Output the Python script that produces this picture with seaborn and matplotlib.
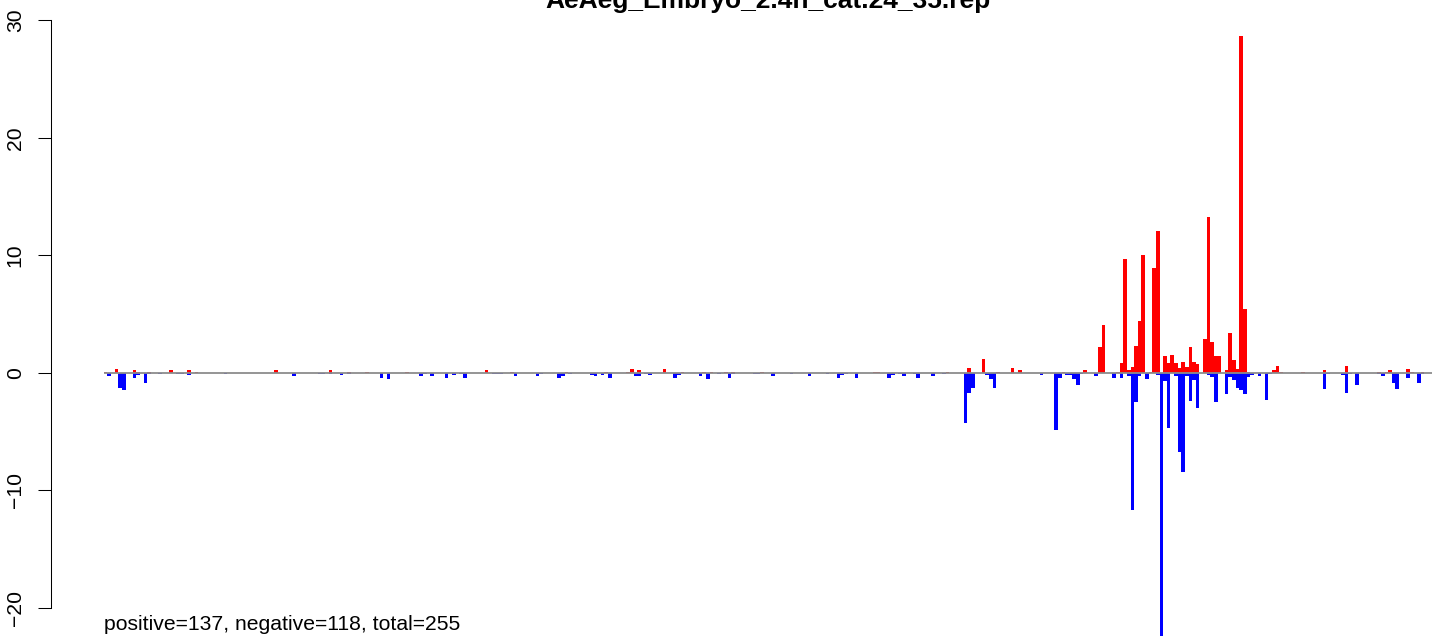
import matplotlib
matplotlib.use("Agg")
import matplotlib.pyplot as plt
import seaborn as sns
import numpy as np
import pandas as pd

title = "AeAeg_Embryo_2.4h_cat.24_35.rep"
note = "positive=137, negative=118, total=255"
n_slots = 366
y_ticks = [-20, -10, 0, 10, 20, 30]

# positive (red) bars: slot index and height
pos_idx = [0, 3, 8, 9, 12, 18, 23, 25, 47, 62,
           67, 72, 83, 105, 112, 127, 138, 144, 145, 147,
           154, 159, 165, 167, 171, 173, 181, 212, 213, 232,
           238, 242, 246, 250, 252, 264, 270, 274, 275, 279,
           280, 281, 282, 283, 284, 285, 286, 288, 289, 290,
           292, 293, 294, 295, 296, 297, 298, 299, 300, 301,
           303, 304, 305, 306, 307, 309, 310, 311, 312, 313,
           314, 315, 322, 323, 324, 330, 336, 342, 351, 353,
           354, 359, 360, 363]
pos_val = [0.1, 0.37, 0.27, 0.05, 0.1, 0.2, 0.2, 0.05, 0.2, 0.2,
           0.1, 0.1, 0.05, 0.2, 0.1, 0.1, 0.1, 0.1, 0.37, 0.2,
           0.3, 0.1, 0.05, 0.1, 0.1, 0.05, 0.1, 0.05, 0.1, 0.05,
           0.45, 1.2, 0.05, 0.45, 0.25, 0.1, 0.2, 2.2, 4.1, 0.05,
           0.85, 9.66, 0.25, 0.5, 2.3, 4.4, 10.0, 0.05, 8.9, 12.1,
           1.45, 0.85, 1.55, 0.85, 0.45, 0.95, 0.5, 2.2, 0.95, 0.77,
           2.9, 13.3, 2.65, 1.4, 1.45, 0.25, 3.4, 1.1, 0.35, 28.7,
           5.4, 0.05, 0.2, 0.55, 0.05, 0.05, 0.2, 0.6, 0.05, 0.1,
           0.2, 0.3, 0.05, 0.1]

# negative (blue) bars
neg_idx = [1, 2, 4, 5, 8, 9, 11, 12, 15, 20,
           21, 23, 33, 42, 52, 59, 60, 62, 65, 67,
           76, 78, 87, 88, 90, 94, 96, 98, 99, 107,
           108, 109, 113, 119, 120, 125, 126, 128, 134, 135,
           137, 139, 141, 146, 147, 149, 150, 157, 158, 164,
           166, 169, 172, 173, 179, 180, 184, 189, 194, 196,
           199, 202, 203, 204, 207, 216, 217, 219, 220, 223,
           224, 228, 231, 237, 238, 239, 243, 244, 245, 258,
           262, 263, 265, 266, 267, 268, 269, 273, 276, 278,
           280, 282, 283, 284, 285, 287, 290, 291, 292, 293,
           295, 296, 297, 298, 299, 300, 301, 303, 304, 305,
           306, 309, 310, 311, 312, 313, 314, 315, 316, 318,
           320, 321, 336, 337, 338, 339, 341, 342, 343, 345,
           351, 352, 355, 356, 358, 359, 362, 363]
neg_val = [-0.3, -0.05, -1.3, -1.5, -0.4, -0.2, -0.9, -0.1, -0.1, -0.1,
           -0.1, -0.2, -0.1, -0.05, -0.3, -0.1, -0.1, -0.1, -0.2, -0.1,
           -0.4, -0.55, -0.3, -0.1, -0.3, -0.4, -0.2, -0.1, -0.4, -0.1,
           -0.1, -0.1, -0.3, -0.3, -0.1, -0.4, -0.3, -0.1, -0.2, -0.3,
           -0.2, -0.4, -0.05, -0.3, -0.3, -0.1, -0.2, -0.4, -0.2, -0.3,
           -0.55, -0.1, -0.4, -0.1, -0.1, -0.1, -0.3, -0.1, -0.3, -0.05,
           -0.1, -0.45, -0.2, -0.1, -0.45, -0.45, -0.2, -0.1, -0.3, -0.1,
           -0.45, -0.3, -0.1, -4.3, -1.7, -1.25, -0.2, -0.5, -1.25, -0.2,
           -4.9, -0.4, -0.2, -0.2, -0.55, -1.0, -0.1, -0.3, -0.05, -0.4,
           -0.4, -0.3, -11.7, -2.5, -0.3, -0.5, -0.15, -22.4, -0.7, -4.7,
           -0.3, -6.7, -8.4, -0.3, -2.4, -0.6, -3.0, -0.05, -0.17, -0.35,
           -2.5, -1.8, -0.35, -0.6, -1.3, -1.45, -1.8, -0.35, -0.17, -0.25,
           -2.35, -0.1, -1.4, -0.1, -0.05, -0.05, -0.2, -1.75, -0.1, -1.0,
           -0.1, -0.3, -0.9, -1.35, -0.05, -0.45, -0.9, -0.1]

slot = np.arange(n_slots)
pos = np.zeros(n_slots)
neg = np.zeros(n_slots)
pos[pos_idx] = pos_val
neg[neg_idx] = neg_val
df = pd.DataFrame({"slot": slot, "pos": pos, "neg": neg})

sns.set_style("white")
plt.rcParams["font.family"] = ["Liberation Sans", "DejaVu Sans"]
plt.rcParams["text.color"] = "black"
plt.rcParams["ytick.color"] = "black"
plt.rcParams["ytick.labelcolor"] = "black"

W, H = 1433, 639
fig = plt.figure(figsize=(W / 100, H / 100), dpi=100)
ax = fig.add_axes([50.7 / W, 0, (1485 - 50.7) / W, 1])

sns.barplot(data=df, x="slot", y="pos", color="#ff0000", width=1, saturation=1,
            linewidth=0, antialiased=False, errorbar=None, ax=ax)
sns.barplot(data=df, x="slot", y="neg", color="#0000ff", width=1, saturation=1,
            linewidth=0, antialiased=False, errorbar=None, ax=ax)
ax.hlines(0, -0.5, n_slots - 0.5, color="#8c8c8c", lw=1.3, zorder=5)

ax.set_xlim(-15.14, 380.2)
ax.set_ylim(-22.65, 31.73)
ax.set_xticks([])
ax.set_xlabel("")
ax.set_ylabel("")
ax.set_yticks(y_ticks)
ax.set_yticklabels([str(t).replace("-", "\u2212") for t in y_ticks])
ax.tick_params(axis="y", left=True, length=9.6, width=0.75, pad=9,
               labelsize=15.2, labelrotation=90, color="black",
               labelcolor="black")
for lab in ax.get_yticklabels():
    lab.set_va("center")
for s in ["top", "right", "bottom"]:
    ax.spines[s].set_visible(False)
ax.spines["left"].set_bounds(-20, 30)
ax.spines["left"].set_linewidth(0.75)
ax.spines["left"].set_color("black")

fig.text(768 / W, 1 - 8 / H, title, ha="center", va="baseline",
         fontsize=19, fontweight="bold", color="black")
fig.text(104.5 / W, 1 - 630 / H, note, ha="left", va="baseline",
         fontsize=15.2, color="black")

fig.savefig("out.png", dpi=100)
